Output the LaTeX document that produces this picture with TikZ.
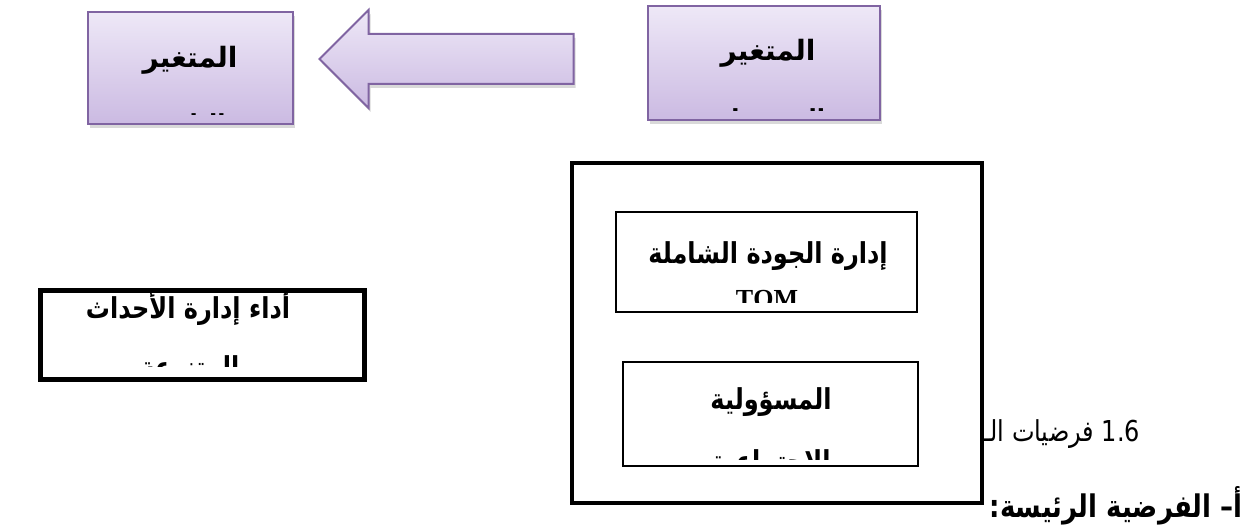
\documentclass[tikz,border=0pt]{standalone}
\usepackage{fontspec}
\setmainfont{Liberation Serif}
\newfontfamily\arabicfont[Script=Arabic]{DejaVu Sans}
\TeXXeTstate=1
\usetikzlibrary{shapes.arrows,shadows}
\definecolor{varborder}{HTML}{8064A2}
\definecolor{vartop}{HTML}{EEE8F7}
\definecolor{varbottom}{HTML}{CBBAE2}
\newcommand\artext[1]{\scalebox{1}[1.2]{\beginR#1\endR}}
\begin{document}
\begin{tikzpicture}[x=0.5pt,y=-0.5pt,
        varbox/.style={draw=varborder, line width=1pt, top color=vartop, bottom color=varbottom,
            drop shadow={opacity=0.3, shadow xshift=1pt, shadow yshift=-2pt}},
        framebox/.style={draw, fill=white, line width=2pt},
        thinbox/.style={draw, fill=white, line width=0.7pt},
        label/.style={font=\arabicfont\bfseries\fontsize{12}{14}\selectfont, inner sep=0pt},
        biglabel/.style={label, font=\arabicfont\bfseries\fontsize{14}{16}\selectfont}]
            \useasboundingbox (0,0) rectangle (1248,529);
            % headings of the page behind the frame
            \node[anchor=base west, inner sep=0pt, font=\arabicfont\fontsize{12}{14}\selectfont] (headsec) at (983,441)
                {\artext{\beginL 1.6\endL{} فرضيات الـ}};
            \node[anchor=base east, inner sep=0pt, font=\arabicfont\bfseries\fontsize{13}{15}\selectfont] (headmain) at (1243,517)
                {\artext{أ– الفرضية الرئيسة:}};
            % variables and arrow
            \node[varbox, minimum width=102.5pt, minimum height=56pt] (vardep) at (190.5,68) {};
            \node[varbox, minimum width=116pt, minimum height=57pt] (varind) at (764,63) {};
            \node[varbox, single arrow, shape border rotate=180, single arrow head extend=12pt,
                inner xsep=0pt, inner ysep=12pt, minimum height=127pt] (flow) at (459,59) {};
            % frame with the two dimensions
            \node[framebox, minimum width=205pt, minimum height=170pt] (frame) at (777,333) {};
            \node[thinbox, minimum width=150.5pt, minimum height=50pt] (tqm) at (766.5,262) {};
            \node[thinbox, minimum width=147.5pt, minimum height=52pt] (csr) at (770.5,414) {};
            \node[framebox, line width=2.5pt, minimum width=162pt, minimum height=44pt] (perf) at (202,335) {};
            % first lines
            \node[biglabel] (vardeptext) at (190,60) {\beginR المتغير\endR};
            \node[biglabel] (varindtext) at (768,53) {\beginR المتغير\endR};
            \foreach \name/\x/\y/\txt in {perf/188/308/أداء إدارة الأحداث, tqm/768/256/إدارة الجودة الشاملة, csr/771/402/المسؤولية}
                {
                    \node[label] (\name text) at (\x,\y) {\artext{\txt}};
                }
            % second lines, cut by the box
            \foreach \name/\x/\y/\cy/\txt in {vardep/195/113/115/التابع, varind/772/108/111/المستقل,
                    perf/190/355/367/المتنوعة, csr/771/449/459/الاجتماعية}
                {
                    \begin{scope}
                        \clip (0,0) rectangle (1248,\cy);
                        \node[label, anchor=north] (\name sub) at (\x,\y) {\artext{\txt}};
                    \end{scope}
                }
            \begin{scope}
                \clip (0,0) rectangle (1248,303);
                \node[anchor=north, inner sep=0pt, font=\bfseries\fontsize{13}{15}\selectfont] (tqmsub) at (767,290) {TQM};
            \end{scope}
        \end{tikzpicture}
\end{document}
